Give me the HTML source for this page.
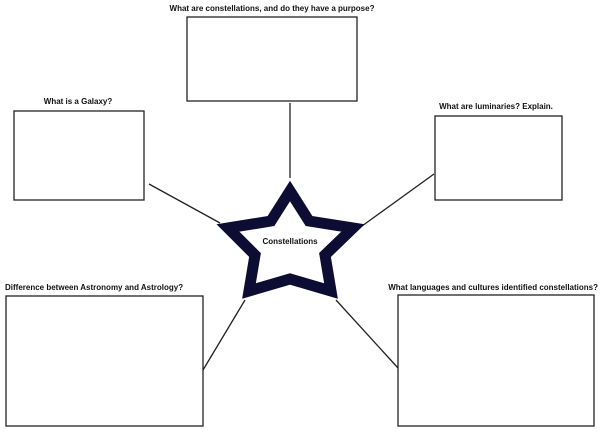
<!DOCTYPE html>
<html><head><style>
body{margin:0;background:#fff}
svg{display:block}
text{font-family:"Liberation Sans",sans-serif;font-weight:bold;font-size:8px;fill:#111}
</style></head><body>
<svg width="600" height="432" viewBox="0 0 600 432">
<g fill="none" stroke="#222" stroke-width="1.3">
<rect x="187" y="17" width="170" height="84"/>
<rect x="14" y="111" width="130" height="89"/>
<rect x="435" y="116" width="127" height="84"/>
<rect x="6" y="296" width="197" height="130"/>
<rect x="398" y="295" width="196" height="131"/>
<line x1="290" y1="103" x2="290" y2="178"/>
<line x1="149" y1="184" x2="220" y2="223"/>
<line x1="434" y1="174" x2="362" y2="226"/>
<line x1="245" y1="300" x2="203" y2="370"/>
<line x1="336" y1="300" x2="398" y2="368"/>
</g>
<polygon points="290,191 309,221 353,228 325,255 331,291 290,279 249,291 255,255 228,228 271,221" fill="#fff" stroke="#0d0d33" stroke-width="11" stroke-linejoin="miter"/>
<text x="290" y="244" text-anchor="middle" font-size="9.5">Constellations</text>
<text x="272" y="11" text-anchor="middle">What are constellations, and do they have a purpose?</text>
<text x="78" y="104" text-anchor="middle">What is a Galaxy?</text>
<text x="496" y="109" text-anchor="middle">What are luminaries?  Explain.</text>
<text x="5" y="290">Difference between Astronomy and Astrology?</text>
<text x="598" y="290" text-anchor="end">What languages and cultures identified constellations?</text>
</svg>
</body></html>
